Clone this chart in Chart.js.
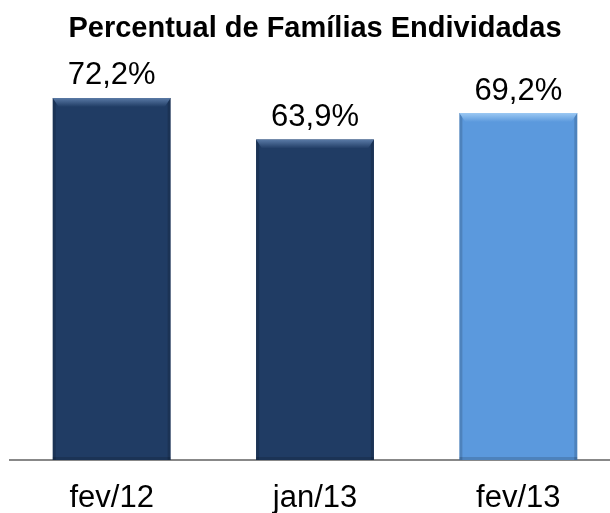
<!DOCTYPE html>
<html lang="pt">
<head>
<meta charset="UTF-8">
<title>Percentual de Famílias Endividadas</title>
<script src="https://cdn.jsdelivr.net/npm/chart.js"></script>
<style>
  html, body { margin: 0; padding: 0; background: #fff; overflow: hidden; }
  canvas { display: block; }
</style>
</head>
<body>
<canvas id="chart" width="620" height="513"></canvas>
<script>
const periods = ['fev/12', 'jan/13', 'fev/13'];
const endividadas = [72.2, 63.9, 69.2];
const barColors = ['#203c64', '#203c64', '#5b99dd'];
const highlightColors = ['#5a7aa6', '#5a7aa6', '#9cc9f3'];

// bevel look: lighter band on top, darker edges
const bevel = {
  id: 'bevel',
  afterDatasetsDraw(chart) {
    const ctx = chart.ctx;
    chart.getDatasetMeta(0).data.forEach((bar, i) => {
      const l = bar.x - bar.width / 2, r = bar.x + bar.width / 2;
      const t = bar.y, b = bar.base;
      ctx.save();
      ctx.fillStyle = 'rgba(0,0,0,0.15)';
      ctx.fillRect(l, t, 3, b - t);
      ctx.fillRect(r - 3, t, 3, b - t);
      ctx.fillRect(l, b - 3, r - l, 3);
      const g = ctx.createLinearGradient(0, t, 0, t + 9);
      g.addColorStop(0, highlightColors[i]);
      g.addColorStop(1, barColors[i]);
      ctx.fillStyle = g;
      ctx.beginPath();
      ctx.moveTo(l, t);
      ctx.lineTo(r, t);
      ctx.lineTo(r - 6, t + 9);
      ctx.lineTo(l + 6, t + 9);
      ctx.closePath();
      ctx.fill();
      ctx.restore();
    });
  }
};

const valueLabels = {
  id: 'valueLabels',
  afterDatasetsDraw(chart) {
    const ctx = chart.ctx;
    ctx.save();
    ctx.font = '31px "Liberation Sans", Arial, sans-serif';
    ctx.fillStyle = '#000';
    ctx.textAlign = 'center';
    ctx.textBaseline = 'middle';
    chart.getDatasetMeta(0).data.forEach((bar, i) => {
      ctx.fillText(endividadas[i].toFixed(1).replace('.', ',') + '%', bar.x, bar.y - 22);
    });
    ctx.restore();
  }
};

new Chart(document.getElementById('chart'), {
  type: 'bar',
  data: {
    labels: periods,
    datasets: [{
      data: endividadas,
      backgroundColor: barColors,
      barPercentage: 0.58,
      categoryPercentage: 1
    }]
  },
  options: {
    responsive: false,
    animation: false,
    layout: { padding: { left: 10, right: 0, top: 0, bottom: -24 } },
    plugins: {
      legend: { display: false },
      tooltip: { enabled: false },
      title: {
        display: true,
        text: 'Percentual de Famílias Endividadas',
        color: '#000',
        font: { family: '"Liberation Sans", Arial, sans-serif', size: 29, weight: 'bold', lineHeight: 1.2 },
        padding: { top: 12, bottom: 12 }
      }
    },
    scales: {
      x: {
        grid: { display: false, drawTicks: false },
        border: { display: true, color: '#888', width: 2 },
        ticks: {
          color: '#000',
          padding: 23,
          font: { family: '"Liberation Sans", Arial, sans-serif', size: 31, lineHeight: 1 }
        }
      },
      y: {
        display: false,
        min: 0,
        max: 80
      }
    }
  },
  plugins: [bevel, valueLabels]
});
</script>
</body>
</html>
